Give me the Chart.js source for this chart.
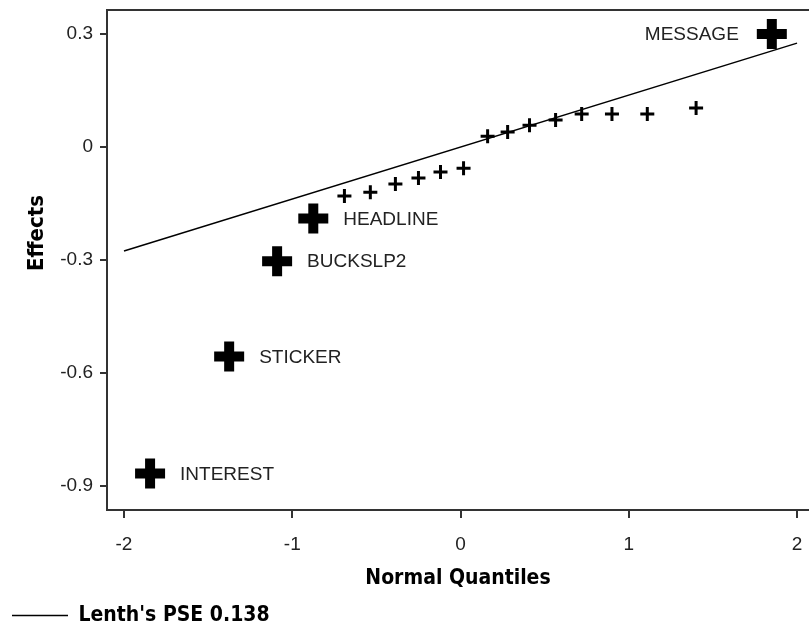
<!DOCTYPE html>
<html>
<head>
<meta charset="utf-8">
<script src="https://cdn.jsdelivr.net/npm/chart.js@4.4.1/dist/chart.umd.min.js"></script>
<style>
  html, body { margin: 0; padding: 0; background: #fff; }
  #wrap { width: 809px; height: 627px; }
</style>
</head>
<body>
<div id="wrap"><canvas id="chart" width="809" height="627"></canvas></div>
<script>
// big labelled effects
const bigLabels = ['INTEREST', 'STICKER', 'BUCKSLP2', 'HEADLINE', 'MESSAGE'];
const bigQuantiles = [-1.845, -1.375, -1.09, -0.875, 1.85];
const bigEffects = [-0.867, -0.556, -0.303, -0.19, 0.30];

// small unlabelled effects
const smallQuantiles = [-0.69, -0.536, -0.387, -0.25, -0.119, 0.018, 0.161, 0.28, 0.41, 0.565, 0.72, 0.90, 1.11, 1.40];
const smallEffects = [-0.130, -0.120, -0.098, -0.082, -0.066, -0.056, 0.029, 0.040, 0.058, 0.072, 0.088, 0.088, 0.088, 0.104];

// Lenth's PSE reference line
const lineQuantiles = [-2, 2];
const lineEffects = [-0.276, 0.276];

const xTicks = [-2, -1, 0, 1, 2];
const yTicks = [0.3, 0, -0.3, -0.6, -0.9];
const yTickLabels = ['0.3', '0', '-0.3', '-0.6', '-0.9'];

const labelFont = '19px "Liberation Sans", Arial, sans-serif';
const boldFamily = '"Liberation Sans Narrow", "DejaVu Sans Condensed", Arial, sans-serif';

// labels beside the big crosses, top frame line, y title
const extras = {
    id: 'extras',
    afterDatasetsDraw(chart) {
        const ctx = chart.ctx;
        const area = chart.chartArea;
        ctx.save();
        ctx.strokeStyle = '#333';
        ctx.lineWidth = 2;
        ctx.beginPath();
        ctx.moveTo(area.left - 1, area.top);
        ctx.lineTo(chart.width, area.top);
        ctx.stroke();

        ctx.font = labelFont;
        ctx.fillStyle = '#222';
        ctx.textBaseline = 'middle';
        const meta = chart.getDatasetMeta(1);
        meta.data.forEach((pt, i) => {
            if (bigQuantiles[i] > 0) {
                ctx.textAlign = 'right';
                ctx.fillText(bigLabels[i], pt.x - 33, pt.y + 1);
            } else {
                ctx.textAlign = 'left';
                ctx.fillText(bigLabels[i], pt.x + 30, pt.y + 1);
            }
        });

        // y title sits a bit above the middle in the original
        ctx.translate(37, 233);
        ctx.rotate(-Math.PI / 2);
        ctx.textAlign = 'center';
        ctx.fillStyle = '#000';
        ctx.font = 'bold 22px ' + boldFamily;
        ctx.fillText('Effects', 0, 0);
        ctx.restore();
    }
};

new Chart(document.getElementById('chart'), {
    type: 'scatter',
    data: {
        datasets: [{
            type: 'line',
            label: "Lenth's PSE 0.138",
            data: lineQuantiles.map((x, i) => ({ x: x, y: lineEffects[i] })),
            borderColor: '#000',
            borderWidth: 1.5,
            pointRadius: 0,
            pointStyle: 'line',
            fill: false
        }, {
            label: 'big',
            data: bigQuantiles.map((x, i) => ({ x: x, y: bigEffects[i] })),
            pointStyle: 'cross',
            pointRadius: 15,
            borderWidth: 10,
            borderColor: '#000',
            backgroundColor: '#000'
        }, {
            label: 'small',
            data: smallQuantiles.map((x, i) => ({ x: x, y: smallEffects[i] })),
            pointStyle: 'cross',
            pointRadius: 7,
            borderWidth: 3,
            borderColor: '#000',
            backgroundColor: '#000'
        }]
    },
    options: {
        responsive: false,
        animation: false,
        events: [],
        layout: { autoPadding: false, padding: { top: 10, right: 0, bottom: -9, left: 0 } },
        plugins: {
            tooltip: { enabled: false },
            legend: {
                position: 'bottom',
                align: 'start',
                labels: {
                    filter: item => item.datasetIndex === 0,
                    usePointStyle: true,
                    pointStyleWidth: 56,
                    color: '#000',
                    padding: 12,
                    font: { family: boldFamily, size: 21, weight: 'bold' }
                }
            }
        },
        scales: {
            x: {
                type: 'linear',
                min: -2.101,
                max: 2.071,
                afterBuildTicks: s => { s.ticks = xTicks.map(v => ({ value: v })); },
                afterFit: s => { s.height = 83; s.paddingLeft = 0; s.paddingRight = 0; },
                border: { color: '#333', width: 2 },
                grid: { drawOnChartArea: false, drawTicks: true, tickLength: 8, color: '#333', lineWidth: 2 },
                ticks: { color: '#222', font: { family: '"Liberation Sans", Arial, sans-serif', size: 19 }, padding: 15, maxRotation: 0 },
                title: {
                    display: true,
                    text: 'Normal Quantiles',
                    color: '#000',
                    padding: 2,
                    font: { family: boldFamily, size: 21, weight: 'bold' }
                }
            },
            y: {
                type: 'linear',
                min: -0.964,
                max: 0.364,
                afterBuildTicks: s => { s.ticks = yTicks.map(v => ({ value: v })); },
                afterFit: s => { s.width = 107; s.paddingTop = 0; s.paddingBottom = 0; },
                border: { color: '#333', width: 2 },
                grid: { drawOnChartArea: false, drawTicks: true, tickLength: 7, color: '#333', lineWidth: 2 },
                ticks: {
                    color: '#222',
                    font: { family: '"Liberation Sans", Arial, sans-serif', size: 19 },
                    padding: 7,
                    callback: (v, i) => yTickLabels[i]
                },
                title: { display: false }
            }
        }
    },
    plugins: [extras]
});
</script>
</body>
</html>
